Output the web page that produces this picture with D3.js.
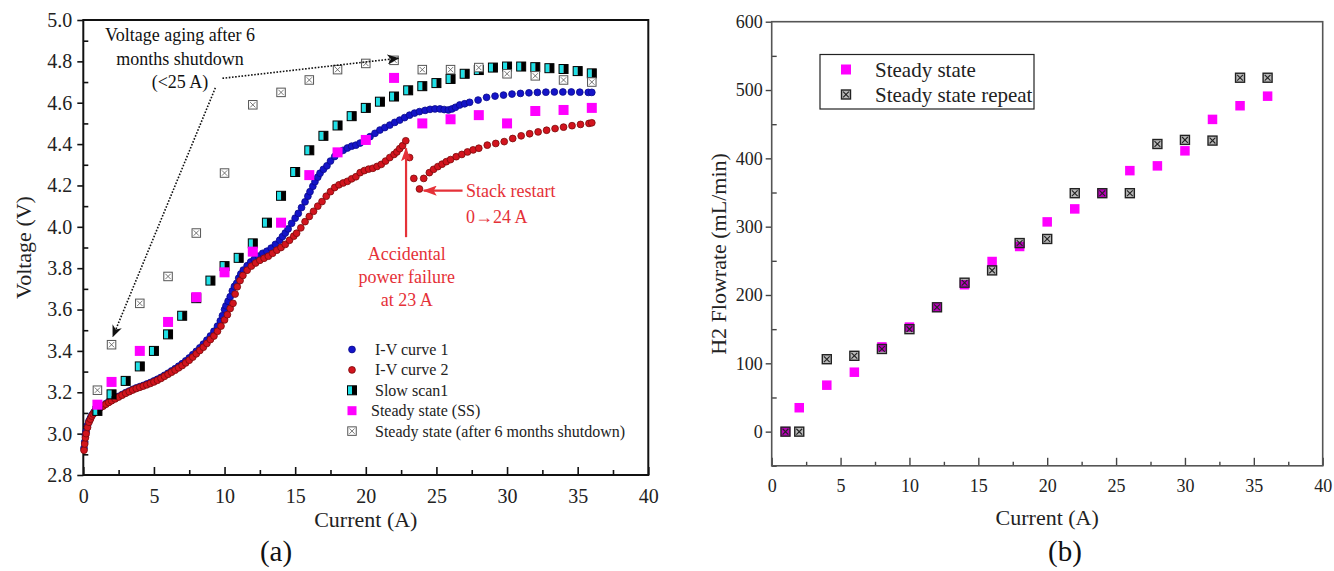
<!DOCTYPE html>
<html><head><meta charset="utf-8">
<script src="https://cdn.jsdelivr.net/npm/d3@7/dist/d3.min.js"></script>
<style>
html,body{margin:0;padding:0;background:#fff;}
svg{display:block;font-family:"Liberation Serif","Times New Roman",serif;}
</style></head>
<body>
<svg id="chart" width="1334" height="571"></svg>
<script>
// ---------------- Panel (a) data ----------------
const ivCurve1Current = [0.05,0.1,0.15,0.2,0.3,0.4,0.5,0.6,0.7,0.8,0.9,1.0,1.2,1.4,1.6,1.8,2.0,2.25,2.5,2.75,3.0,3.25,3.5,3.75,4.0,4.25,4.5,4.75,5.0,5.25,5.5,5.75,6.0,6.25,6.5,6.75,7.0,7.25,7.5,7.75,8.0,8.25,8.5,8.75,9.0,9.25,9.5,9.7,9.85,10.0,10.1,10.25,10.4,10.55,10.7,10.86,11.0,11.15,11.33,11.6,11.85,12.1,12.4,12.7,13.0,13.3,13.6,13.9,14.1,14.3,14.5,14.75,15.0,15.22,15.45,15.7,15.9,16.05,16.25,16.4,16.6,16.76,17.0,17.25,17.5,17.8,18.1,18.4,18.7,19.0,19.3,19.6,19.95,20.3,20.65,21.0,21.35,21.7,22.05,22.4,22.75,23.1,23.45,23.8,24.2,24.55,24.9,25.25,25.55,25.85,26.1,26.35,26.65,27.0,27.35,27.95,28.55,29.15,29.75,30.35,30.95,31.55,32.15,32.75,33.35,33.95,34.55,35.15,35.75,36.0];
const ivCurve1Voltage = [2.93,2.96,2.99,3.01,3.04,3.06,3.075,3.088,3.098,3.107,3.114,3.12,3.128,3.136,3.145,3.154,3.162,3.171,3.18,3.189,3.198,3.206,3.214,3.221,3.227,3.233,3.24,3.247,3.255,3.263,3.272,3.282,3.292,3.303,3.314,3.326,3.338,3.352,3.366,3.382,3.398,3.415,3.433,3.452,3.472,3.495,3.52,3.545,3.57,3.6,3.618,3.64,3.662,3.69,3.712,3.727,3.752,3.772,3.791,3.812,3.83,3.843,3.858,3.872,3.882,3.897,3.915,3.935,3.953,3.97,3.99,4.017,4.042,4.065,4.093,4.121,4.148,4.17,4.196,4.218,4.24,4.259,4.278,4.295,4.318,4.34,4.357,4.37,4.381,4.39,4.395,4.405,4.42,4.436,4.452,4.468,4.48,4.492,4.505,4.516,4.528,4.54,4.55,4.557,4.563,4.568,4.57,4.57,4.567,4.565,4.57,4.578,4.589,4.595,4.602,4.613,4.626,4.632,4.637,4.642,4.645,4.648,4.65,4.651,4.652,4.652,4.652,4.651,4.65,4.65];

const ivCurve2Current = [0.05,0.1,0.15,0.2,0.3,0.4,0.5,0.6,0.7,0.8,0.9,1.0,1.2,1.4,1.6,1.8,2.0,2.25,2.5,2.75,3.0,3.25,3.5,3.75,4.0,4.25,4.5,4.75,5.0,5.25,5.5,5.75,6.0,6.25,6.5,6.75,7.0,7.25,7.5,7.75,8.0,8.25,8.5,8.75,9.0,9.25,9.5,9.75,10.0,10.2,10.4,10.6,10.75,10.9,11.1,11.3,11.6,11.9,12.2,12.5,12.8,13.1,13.4,13.7,14.0,14.3,14.6,14.9,15.1,15.4,15.7,16.0,16.3,16.6,16.9,17.2,17.5,17.8,18.1,18.4,18.7,19.0,19.3,19.6,19.9,20.2,20.5,20.8,21.1,21.4,21.7,22.0,22.2,22.4,22.6,22.83,23.1,23.4,23.8,24.1,24.5,24.8,25.1,25.4,25.7,26.0,26.4,26.8,27.2,27.6,28.0,28.6,29.2,29.8,30.4,31.0,31.6,32.2,32.8,33.4,34.0,34.6,35.2,35.8,36.0];
const ivCurve2Voltage = [2.92,2.95,2.98,3.0,3.03,3.055,3.07,3.085,3.095,3.105,3.112,3.118,3.126,3.133,3.142,3.151,3.159,3.168,3.177,3.186,3.195,3.203,3.211,3.218,3.224,3.23,3.236,3.243,3.25,3.258,3.267,3.277,3.287,3.297,3.307,3.318,3.329,3.342,3.355,3.37,3.386,3.402,3.418,3.436,3.455,3.472,3.495,3.52,3.55,3.575,3.605,3.63,3.675,3.71,3.74,3.765,3.79,3.81,3.825,3.838,3.848,3.858,3.872,3.887,3.9,3.915,3.935,3.955,3.969,3.995,4.025,4.05,4.075,4.1,4.122,4.148,4.17,4.19,4.203,4.212,4.22,4.232,4.242,4.262,4.272,4.279,4.283,4.292,4.302,4.318,4.335,4.35,4.362,4.378,4.392,4.416,4.335,4.234,4.183,4.234,4.262,4.278,4.291,4.303,4.315,4.325,4.339,4.35,4.362,4.372,4.38,4.395,4.403,4.412,4.427,4.44,4.45,4.459,4.467,4.475,4.482,4.489,4.495,4.5,4.503];

const slowScanCurrent = [1,2,3,4,5,6,7,8,9,10,11,12,13,14,15,16,17,18,19,20,21,22,23,24,25,26,27,28,29,30,31,32,33,34,35,36];
const slowScanVoltage = [3.11,3.19,3.255,3.325,3.40,3.48,3.57,3.655,3.74,3.81,3.85,3.92,4.02,4.15,4.265,4.37,4.44,4.49,4.535,4.575,4.605,4.63,4.66,4.68,4.695,4.715,4.74,4.758,4.77,4.775,4.775,4.772,4.767,4.763,4.753,4.742];

const steadyCurrent = [1,2,4,6,8,10,12,14,16,18,20,22,24,26,28,30,32,34,36];
const steadyVoltage = [3.14,3.25,3.40,3.54,3.66,3.78,3.88,4.02,4.25,4.36,4.42,4.72,4.50,4.52,4.54,4.50,4.56,4.565,4.575];

const agedCurrent = [1,2,4,6,8,10,12,14,16,18,20,22,24,26,28,30,32,34,36];
const agedVoltage = [3.21,3.43,3.63,3.76,3.97,4.26,4.59,4.65,4.71,4.76,4.79,4.805,4.76,4.76,4.77,4.74,4.73,4.71,4.70];

const legendA = ["I-V curve 1","I-V curve 2","Slow scan1","Steady state (SS)","Steady state (after 6 months shutdown)"];
const xTicksMajor = [0,5,10,15,20,25,30,35,40];
const yTicksA = [2.8,3.0,3.2,3.4,3.6,3.8,4.0,4.2,4.4,4.6,4.8,5.0];

// ---------------- Panel (b) data ----------------
const flowCurrent = [1,2,4,6,8,10,12,14,16,18,20,22,24,26,28,30,32,34,36];
const flowSteady = [0,35,68,87,124,153,182,215,249,271,307,326,349,382,389,411,457,477,491];
const flowRepeat = [0,0,106,111,121,150,182,218,236,276,282,349,349,349,421,427,426,518,518];
const legendB = ["Steady state","Steady state repeat"];
const yTicksB = [0,100,200,300,400,500,600];

// ---------------- drawing ----------------
const svg = d3.select("#chart");
const RED = "#e53138";

const defs = svg.append("defs");
defs.append("marker").attr("id","arrBlack").attr("viewBox","0 0 12 10").attr("refX",11).attr("refY",5)
  .attr("markerWidth",12).attr("markerHeight",10).attr("markerUnits","userSpaceOnUse").attr("orient","auto")
  .append("path").attr("d","M0,0 L12,5 L0,10 L3.5,5 Z").attr("fill","#111");
defs.append("marker").attr("id","arrRed").attr("viewBox","0 0 14 10").attr("refX",13).attr("refY",5)
  .attr("markerWidth",14).attr("markerHeight",10).attr("markerUnits","userSpaceOnUse").attr("orient","auto")
  .append("path").attr("d","M0,0 L14,5 L0,10 L3,5 Z").attr("fill",RED);

function dot(g,x,y,fill,stroke){
  g.append("circle").attr("cx",x).attr("cy",y).attr("r",3.4).attr("fill",fill).attr("stroke",stroke).attr("stroke-width",0.8);
}
function magentaSq(g,x,y,s){
  g.append("rect").attr("x",x-s/2).attr("y",y-s/2).attr("width",s).attr("height",s).attr("fill","#ff00ff");
}
function slowSq(g,x,y){
  const s=9;
  g.append("rect").attr("x",x-s/2).attr("y",y-s/2).attr("width",s/2).attr("height",s).attr("fill","#1fe0e6");
  g.append("rect").attr("x",x).attr("y",y-s/2).attr("width",s/2).attr("height",s).attr("fill","#000");
  g.append("rect").attr("x",x-s/2).attr("y",y-s/2).attr("width",s).attr("height",s).attr("fill","none").attr("stroke","#000").attr("stroke-width",1);
}
function boxX(g,x,y,s,fill,stroke,sw){
  g.append("rect").attr("x",x-s/2).attr("y",y-s/2).attr("width",s).attr("height",s).attr("fill",fill).attr("stroke",stroke).attr("stroke-width",sw);
  const d=s/2-1.6;
  g.append("path").attr("d",`M${x-d},${y-d}L${x+d},${y+d}M${x-d},${y+d}L${x+d},${y-d}`).attr("stroke",stroke).attr("stroke-width",sw*0.8);
}

// ===== Panel (a) =====
const xA = d3.scaleLinear().domain([0,40]).range([83.3,648.3]);
const yA = d3.scaleLinear().domain([2.8,5.0]).range([475,20]);
const gA = svg.append("g");

// axes
const axA_x = gA.append("g").attr("transform",`translate(0,${yA(2.8)})`)
  .call(d3.axisBottom(xA).tickValues(xTicksMajor).tickFormat(d3.format("d")).tickSizeInner(-8).tickSizeOuter(0).tickPadding(14));
gA.append("g").attr("transform",`translate(0,${yA(2.8)})`)
  .call(d3.axisBottom(xA).tickValues(d3.range(2.5,40,5)).tickFormat("").tickSizeInner(-5).tickSizeOuter(0));
gA.append("g").attr("transform",`translate(${xA(0)},0)`)
  .call(d3.axisLeft(yA).tickValues(yTicksA).tickFormat(d3.format(".1f")).tickSizeInner(6).tickSizeOuter(0).tickPadding(5));
gA.append("g").attr("transform",`translate(${xA(0)},0)`)
  .call(d3.axisLeft(yA).tickValues(d3.range(2.9,5.0,0.2)).tickFormat("").tickSizeInner(-5).tickSizeOuter(0));
gA.selectAll(".domain").remove();
gA.selectAll(".tick line").attr("stroke","#111").attr("stroke-width",1.6);
gA.selectAll(".tick text").attr("font-family","Liberation Serif").attr("font-size",20).attr("fill","#222");
gA.append("rect").attr("x",xA(0)).attr("y",yA(5.0)).attr("width",xA(40)-xA(0)).attr("height",yA(2.8)-yA(5.0))
  .attr("fill","none").attr("stroke","#111").attr("stroke-width",2);

// data marks
const mA = gA.append("g");
ivCurve1Current.forEach((c,i)=>dot(mA,xA(c),yA(ivCurve1Voltage[i]),"#1414c8","#0a0a8a"));
ivCurve2Current.forEach((c,i)=>dot(mA,xA(c),yA(ivCurve2Voltage[i]),"#d2141e","#7a0a0a"));
slowScanCurrent.forEach((c,i)=>slowSq(mA,xA(c),yA(slowScanVoltage[i])));
steadyCurrent.forEach((c,i)=>magentaSq(mA,xA(c),yA(steadyVoltage[i]),10));
agedCurrent.forEach((c,i)=>boxX(mA,xA(c),yA(agedVoltage[i]),8.5,"#fff","#555",1));

// titles
gA.append("text").attr("x",(xA(0)+xA(40))/2).attr("y",527).attr("text-anchor","middle").attr("font-size",22).attr("fill","#222").text("Current (A)");
gA.append("text").attr("transform",`translate(31,${(yA(2.8)+yA(5.0))/2}) rotate(-90)`).attr("text-anchor","middle").attr("font-size",22).attr("fill","#222").text("Voltage (V)");
gA.append("text").attr("x",276).attr("y",561).attr("text-anchor","middle").attr("font-size",29).attr("fill","#111").text("(a)");

// annotations
const annBlack = ["Voltage aging after 6","months shutdown","(<25 A)"];
annBlack.forEach((t,i)=>gA.append("text").attr("x",xA(6.85)).attr("y",41+i*23.5).attr("text-anchor","middle").attr("font-size",18).attr("fill","#111").text(t));
gA.append("line").attr("x1",xA(9.85)).attr("y1",yA(4.718)).attr("x2",xA(22.3)).attr("y2",yA(4.815))
  .attr("stroke","#111").attr("stroke-width",1.6).attr("stroke-dasharray","1.6,1.6").attr("marker-end","url(#arrBlack)");
gA.append("line").attr("x1",xA(9.35)).attr("y1",yA(4.672)).attr("x2",xA(2.1)).attr("y2",yA(3.47))
  .attr("stroke","#111").attr("stroke-width",1.6).attr("stroke-dasharray","1.6,1.6").attr("marker-end","url(#arrBlack)");

gA.append("line").attr("x1",xA(22.85)).attr("y1",yA(3.95)).attr("x2",xA(22.85)).attr("y2",yA(4.38))
  .attr("stroke",RED).attr("stroke-width",2.2).attr("marker-end","url(#arrRed)");
gA.append("line").attr("x1",xA(26.85)).attr("y1",yA(4.175)).attr("x2",xA(24.1)).attr("y2",yA(4.175))
  .attr("stroke",RED).attr("stroke-width",2.2).attr("marker-end","url(#arrRed)");
["Stack restart","0\u219224 A"].forEach((t,i)=>gA.append("text").attr("x",xA(27.1)).attr("y",197+i*26).attr("font-size",18).attr("fill",RED).text(t));
["Accidental","power failure","at 23 A"].forEach((t,i)=>gA.append("text").attr("x",xA(22.9)).attr("y",260+i*23).attr("text-anchor","middle").attr("font-size",18).attr("fill",RED).text(t));

// legend (a)
const lgA = gA.append("g").attr("transform","translate(352,349.5)");
legendA.forEach((t,i)=>{
  const y=i*20.4;
  const g=lgA.append("g");
  if(i===0) dot(g,0,y,"#1414c8","#0a0a8a");
  if(i===1) dot(g,0,y,"#d2141e","#7a0a0a");
  if(i===2) slowSq(g,0,y);
  if(i===3) magentaSq(g,0,y,9);
  if(i===4) boxX(g,0,y,8.5,"#fff","#555",1);
  g.append("text").attr("x",i===3?19:23).attr("y",y+5.5).attr("font-size",16).attr("fill","#222").text(t);
});

// ===== Panel (b) =====
const xB = d3.scaleLinear().domain([0,40]).range([771.7,1322.7]);
const yB = d3.scaleLinear().domain([-50,600]).range([465.8,21.7]);
const gB = svg.append("g");
gB.append("g").attr("transform",`translate(0,${yB(-50)})`)
  .call(d3.axisBottom(xB).tickValues(xTicksMajor).tickFormat(d3.format("d")).tickSizeInner(-8).tickSizeOuter(0).tickPadding(13));
gB.append("g").attr("transform",`translate(0,${yB(-50)})`)
  .call(d3.axisBottom(xB).tickValues(d3.range(2.5,40,5)).tickFormat("").tickSizeInner(-4).tickSizeOuter(0));
gB.append("g").attr("transform",`translate(${xB(0)},0)`)
  .call(d3.axisLeft(yB).tickValues(yTicksB).tickFormat(d3.format("d")).tickSizeInner(6).tickSizeOuter(0).tickPadding(3));
gB.append("g").attr("transform",`translate(${xB(0)},0)`)
  .call(d3.axisLeft(yB).tickValues(d3.range(-50,600,100)).tickFormat("").tickSizeInner(-5).tickSizeOuter(0));
gB.selectAll(".domain").remove();
gB.selectAll(".tick line").attr("stroke","#444").attr("stroke-width",1.4);
gB.selectAll(".tick text").attr("font-family","Liberation Serif").attr("font-size",18).attr("fill","#222");
gB.append("rect").attr("x",xB(0)).attr("y",yB(600)).attr("width",xB(40)-xB(0)).attr("height",yB(-50)-yB(600))
  .attr("fill","none").attr("stroke","#555").attr("stroke-width",1.6);

const mB = gB.append("g");
flowCurrent.forEach((c,i)=>magentaSq(mB,xB(c),yB(flowSteady[i]),9.5));
flowCurrent.forEach((c,i)=>boxX(mB,xB(c),yB(flowRepeat[i]),9,"rgba(0,0,0,0.28)","#222",1.4));

gB.append("text").attr("x",(xB(0)+xB(40))/2).attr("y",525).attr("text-anchor","middle").attr("font-size",22).attr("fill","#222").text("Current (A)");
gB.append("text").attr("transform",`translate(726,254) rotate(-90)`).attr("text-anchor","middle").attr("font-size",22).attr("fill","#222").text("H2 Flowrate (mL/min)");
gB.append("text").attr("x",1065).attr("y",561).attr("text-anchor","middle").attr("font-size",29).attr("fill","#111").text("(b)");

// legend (b)
const lgB = gB.append("g");
lgB.append("rect").attr("x",820).attr("y",54.5).attr("width",214).attr("height",54.5).attr("fill","#fff").attr("stroke","#222").attr("stroke-width",1.2);
legendB.forEach((t,i)=>{
  const y=69.5+i*25;
  if(i===0) magentaSq(lgB,846,y,10);
  else boxX(lgB,846,y,9,"rgba(0,0,0,0.28)","#222",1.4);
  lgB.append("text").attr("x",875).attr("y",y+7).attr("font-size",21).attr("fill","#222").text(t);
});
</script>
</body></html>
